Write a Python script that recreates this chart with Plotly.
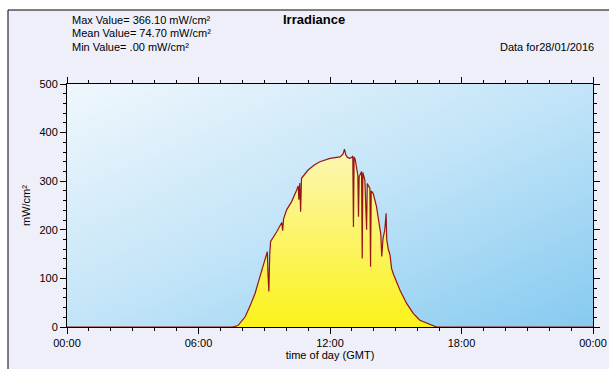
import plotly.graph_objects as go

# ---- data ----
hours = [0, 7.55, 7.8, 8.13, 8.35, 8.58, 8.8, 9.04, 9.14, 9.17, 9.21, 9.25, 9.29, 9.57, 9.8, 9.84,
         9.88, 10.02, 10.25, 10.48, 10.55, 10.58, 10.62, 10.66, 10.7, 11.0, 11.3, 11.54, 12.0, 12.46,
         12.6, 12.66, 12.72, 12.8, 12.91, 13.0, 13.04, 13.07, 13.1, 13.15, 13.2, 13.27, 13.3, 13.33,
         13.44, 13.47, 13.5, 13.59, 13.67, 13.7, 13.82, 13.85, 13.88, 13.97, 14.12, 14.25, 14.32,
         14.36, 14.42, 14.5, 14.56, 14.59, 14.66, 14.74, 14.81, 14.9, 15.0, 15.19, 15.49, 15.8, 16.1,
         16.48, 16.86, 24]
irradiance = [0, 0, 3, 21, 43, 69, 103, 138, 155, 110, 73, 150, 176, 196, 215, 198,
              222, 241, 258, 282, 290, 262, 296, 237, 306, 323, 334, 340, 347, 350,
              356, 366.1, 354, 349, 347, 349, 352, 206, 350, 345, 330, 312, 227, 309,
              320, 141, 318, 302, 200, 295, 285, 124, 280, 275, 248, 213, 190,
              145, 182, 200, 234, 179, 160, 148, 120, 108, 96, 76, 49, 28, 14,
              7, 0, 0]

x_tick_vals = [0, 6, 12, 18, 24]
x_tick_text = ["00:00", "06:00", "12:00", "18:00", "00:00"]
y_tick_vals = [0, 100, 200, 300, 400, 500]

stats_text = ["Max Value= 366.10 mW/cm²", "Mean Value= 74.70 mW/cm²", "Min Value= .00 mW/cm²"]
title_text = "Irradiance"
date_text = "Data for28/01/2016"
x_title = "time of day (GMT)"
y_title = "mW/cm²"

# ---- layout geometry (pixels) ----
W, H = 609, 369
L, R, T, B = 67, 16, 84, 42
PW, PH = W - L - R, H - T - B


def px(x):
    return (x - L) / PW


def py(y):
    return (H - B - y) / PH


FONT = "Liberation Sans, Arial, sans-serif"

fig = go.Figure()

# gradient background of the plotting area
fig.add_trace(go.Heatmap(
    x=[0, 24], y=[0, 500], z=[[0.5, 1.0], [0.0, 0.5]],
    zsmooth="best", showscale=False, hoverinfo="skip",
    colorscale=[[0, "#f0f7fc"], [0.5, "#c2e4f8"], [1, "#86caf0"]],
    xaxis="x", yaxis="y",
))

fig.add_trace(go.Scatter(
    x=hours, y=irradiance, mode="lines",
    line=dict(color="#961515", width=1.2),
    fill="tozeroy",
    fillgradient=dict(type="vertical", colorscale=[[0, "#fbf21a"], [1, "#fdf6b8"]],
                      start=0, stop=370),
    hoverinfo="skip",
))

axis_common = dict(showgrid=False, zeroline=False, showline=True, linecolor="black",
                   linewidth=1, tickcolor="black", automargin=False,
                   tickfont=dict(family=FONT, size=11, color="black"))

fig.update_layout(
    width=W, height=H,
    margin=dict(l=L, r=R, t=T, b=B, pad=0, autoexpand=False),
    paper_bgcolor="white",
    plot_bgcolor="rgba(0,0,0,0)",
    showlegend=False,
    font=dict(family=FONT, size=11, color="black"),
    xaxis=dict(range=[0, 24], tickmode="array", tickvals=x_tick_vals, ticktext=x_tick_text,
               ticks="outside", ticklen=6, mirror="allticks",
               minor=dict(dtick=1, tick0=0, ticks="outside", ticklen=3, tickcolor="black"),
               title=dict(text=x_title, font=dict(family=FONT, size=11), standoff=2),
               **axis_common),
    yaxis=dict(range=[0, 500], tickmode="array", tickvals=y_tick_vals,
               ticks="outside", ticklen=6, mirror="allticks",
               minor=dict(dtick=20, tick0=0, ticks="outside", ticklen=3, tickcolor="black"),
               title=dict(text=y_title, font=dict(family=FONT, size=11), standoff=6),
               **axis_common),
)

# outer frame
fig.add_shape(type="rect", xref="paper", yref="paper",
              x0=px(8), x1=px(640), y0=py(400), y1=py(10),
              line=dict(color="black", width=1), fillcolor="#efeffa", layer="below")

for i, t in enumerate(stats_text):
    fig.add_annotation(xref="paper", yref="paper", x=px(70), y=py(20 + 13.5 * i),
                       text=t, showarrow=False, xanchor="left", yanchor="middle",
                       font=dict(family=FONT, size=11, color="black"))
fig.add_annotation(xref="paper", yref="paper", x=px(314), y=py(19), text="<b>" + title_text + "</b>",
                   showarrow=False, xanchor="center", yanchor="middle",
                   font=dict(family=FONT, size=13, color="black"))
fig.add_annotation(xref="paper", yref="paper", x=px(596), y=py(47), text=date_text,
                   showarrow=False, xanchor="right", yanchor="middle",
                   font=dict(family=FONT, size=11, color="black"))

fig.write_html("out.html")
